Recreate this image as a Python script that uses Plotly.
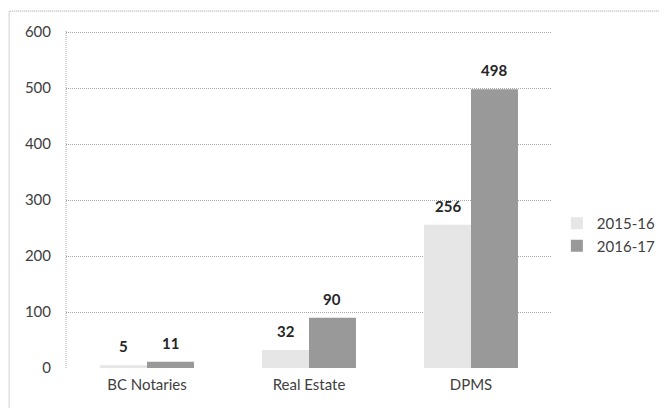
import plotly.graph_objects as go

categories = ["BC Notaries", "Real Estate", "DPMS"]
series_names = ["2015-16", "2016-17"]
values_2015 = [5, 32, 256]
values_2016 = [11, 90, 498]
y_ticks = [0, 100, 200, 300, 400, 500, 600]

colors = ["#e6e6e6", "#999999"]
font_family = "Lato, 'Open Sans', sans-serif"

W, H = 659, 400
L, R, T, B = 58, 115, 22, 40
plot_w = W - L - R
bargap = 0.42
bar_px = plot_w / len(categories) * (1 - bargap) / 2

fig = go.Figure()
for name, vals, col in zip(series_names, [values_2015, values_2016], colors):
    fig.add_trace(go.Bar(
        name=name, x=categories, y=vals,
        marker=dict(color=col, line=dict(width=0)),
        hoverinfo="x+y",
    ))

annotations = []
for i, vals in enumerate([values_2015, values_2016]):
    shift = (i - 0.5) * bar_px
    for c, v in zip(categories, vals):
        annotations.append(dict(
            x=c, y=v, xref="x", yref="y", text=f"<b>{v}</b>",
            showarrow=False, xshift=shift, yshift=8, yanchor="bottom",
            font=dict(family=font_family, size=15, color="#262626"),
        ))

fig.update_layout(
    width=W, height=H,
    margin=dict(l=L, r=R, t=T, b=B, autoexpand=False),
    paper_bgcolor="white", plot_bgcolor="white",
    barmode="group", bargap=bargap, bargroupgap=0,
    font=dict(family=font_family, size=15, color="#404040"),
    legend=dict(x=1.01, y=0.395, xanchor="left", yanchor="middle",
                font=dict(size=15, color="#404040"),
                bgcolor="rgba(0,0,0,0)"),
    showlegend=True,
    xaxis=dict(showgrid=False, showline=False, ticks="", ticklabelstandoff=6,
               tickfont=dict(size=15, color="#404040")),
    yaxis=dict(range=[0, 604], tickvals=y_ticks, showgrid=True,
               gridcolor="#a8a8a8", griddash="1px,1px", gridwidth=1,
               zeroline=False, showline=False,
               ticks="", ticklabelstandoff=14,
               tickfont=dict(size=15, color="#404040")),
    annotations=annotations,
    shapes=[
        dict(type="rect", xref="paper", yref="paper",
             x0=-0.117, x1=1.3, y0=-0.3, y1=1.056,
             line=dict(color="#a0a0a0", width=1, dash="1px,1px"),
             fillcolor="rgba(0,0,0,0)", layer="below"),
        dict(type="line", xref="paper", yref="paper",
             x0=0, x1=0, y0=0, y1=1,
             line=dict(color="#a8a8a8", width=1, dash="1px,1px"),
             layer="below"),
    ],
)

fig.write_html("out.html")
